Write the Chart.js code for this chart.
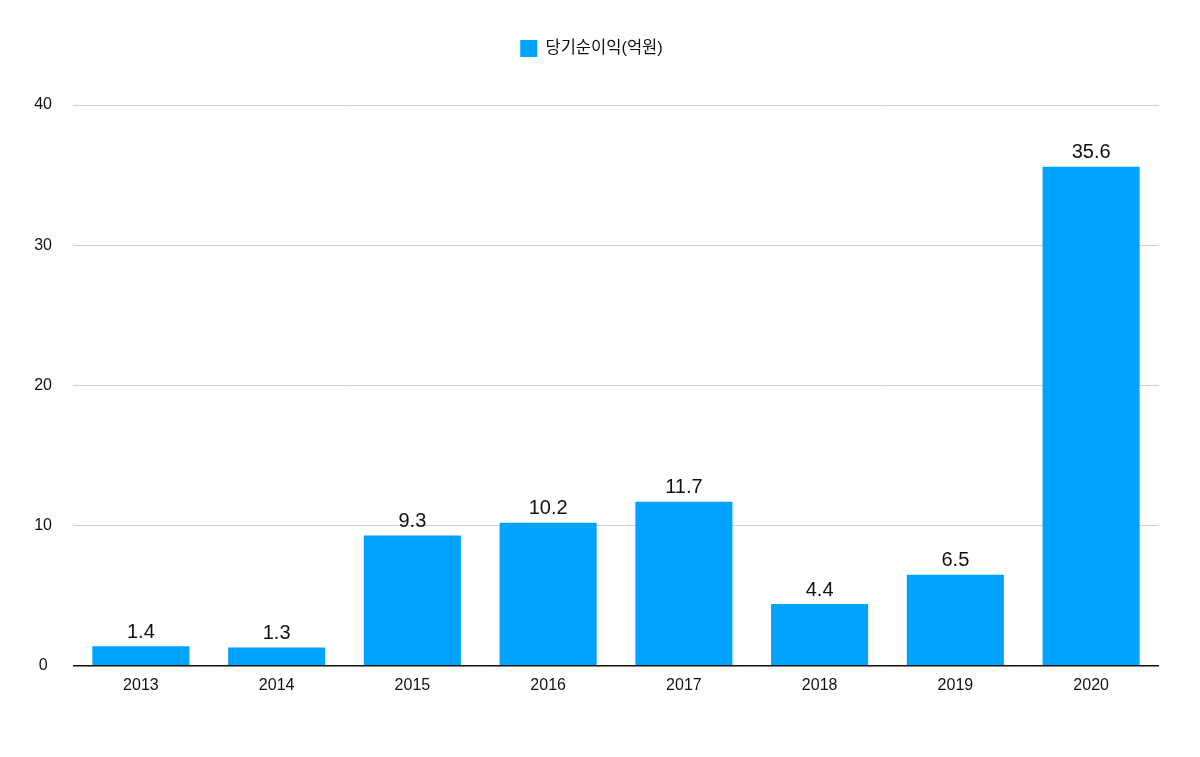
<!DOCTYPE html>
<html>
<head>
<meta charset="utf-8">
<script src="https://cdn.jsdelivr.net/npm/chart.js@4"></script>
<style>
  html, body { margin: 0; padding: 0; background: #fff; }
  #wrap { width: 1200px; height: 757px; }
</style>
</head>
<body>
<div id="wrap"><canvas id="profitChart" width="1200" height="757"></canvas></div>
<script>
// chart data
const years = ['2013', '2014', '2015', '2016', '2017', '2018', '2019', '2020'];
const netProfit = [1.4, 1.3, 9.3, 10.2, 11.7, 4.4, 6.5, 35.6];
const seriesLabel = '당기순이익(억원)';
const yTicks = [0, 10, 20, 30, 40];

const FONT = '"Liberation Sans", Arial, "Noto Sans CJK KR", sans-serif';

// draws value above each bar
const valueLabels = {
  id: 'valueLabels',
  afterDatasetsDraw(chart) {
    const ctx = chart.ctx;
    ctx.save();
    ctx.font = '20px ' + FONT;
    ctx.fillStyle = '#111';
    ctx.textAlign = 'center';
    ctx.textBaseline = 'bottom';
    chart.getDatasetMeta(0).data.forEach(function(bar, i) {
      ctx.fillText(netProfit[i].toFixed(1), bar.x, bar.y - 4);
    });
    ctx.restore();
  }
};

// push plot area down below the legend
const legendGap = {
  id: 'legendGap',
  beforeInit(chart) {
    const fit = chart.legend.fit;
    chart.legend.fit = function() {
      fit.bind(chart.legend)();
      this.height += 38;
    };
  }
};

function genChart() {
  const ctx = document.getElementById('profitChart').getContext('2d');
  new Chart(ctx, {
    type: 'bar',
    data: {
      labels: years,
      datasets: [{
        label: seriesLabel,
        backgroundColor: 'rgb(0, 162, 255)',
        borderWidth: 0,
        data: netProfit,
        categoryPercentage: 1.0,
        barPercentage: 0.715
      }]
    },
    options: {
      responsive: false,
      animation: false,
      devicePixelRatio: 1,
      layout: { padding: { left: 24, right: 41, top: 30, bottom: 60 } },
      plugins: {
        legend: {
          labels: {
            boxWidth: 17,
            boxHeight: 17,
            padding: 10,
            color: '#111',
            font: { family: FONT, size: 16.5 }
          }
        },
        tooltip: { enabled: false }
      },
      scales: {
        x: {
          grid: { display: false },
          border: { display: false },
          ticks: { color: '#111', padding: 2, font: { family: FONT, size: 16 } }
        },
        y: {
          min: 0,
          max: 40,
          afterFit: function(scale) { scale.width = 49; },
          afterBuildTicks: function(scale) {
            scale.ticks = yTicks.map(function(v) { return { value: v }; });
          },
          border: { display: false },
          grid: {
            drawTicks: false,
            color: function(c) { return c.tick && c.tick.value === 0 ? '#111' : '#d0d0d0'; },
            lineWidth: function(c) { return c.tick && c.tick.value === 0 ? 1.5 : 1; }
          },
          ticks: {
            crossAlign: 'center',
            padding: 21,
            color: '#111',
            font: { family: FONT, size: 16 }
          }
        }
      }
    },
    plugins: [valueLabels, legendGap]
  });
}

genChart();
</script>
</body>
</html>
